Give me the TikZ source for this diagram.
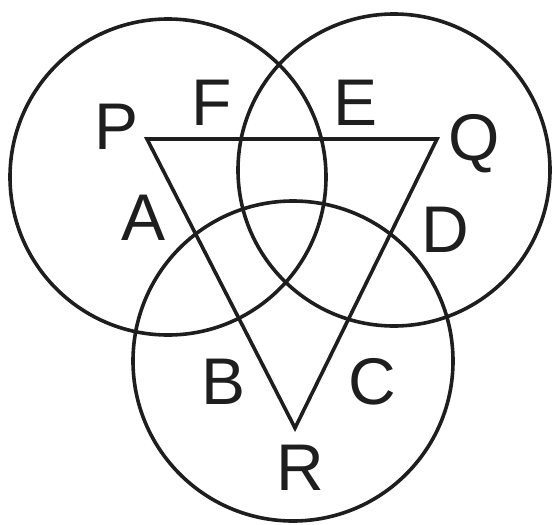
\documentclass[tikz,border=0pt]{standalone}
\usepackage{fontspec}
\setmainfont{Liberation Sans}
\definecolor{ink}{RGB}{30,30,30}
\begin{document}
\begin{tikzpicture}[x=1pt,y=-1pt,
  line/.style={draw=ink,line width=3.6pt},
  lbl/.style={font=\fontsize{66}{66}\selectfont,text=ink,inner sep=0pt}]
\useasboundingbox (0,0) rectangle (560,525);
\coordinate (c1) at (168,177);
\coordinate (c2) at (394,170);
\coordinate (c3) at (293,361);
\draw[line] (c1) circle[radius=158pt];
\draw[line] (c2) circle[radius=156pt];
\draw[line] (c3) circle[radius=160pt];
\coordinate (P) at (147,139);
\coordinate (Q) at (437,139);
\coordinate (R) at (295,428);
\draw[line,line join=miter] (P) -- (Q) -- (R) -- cycle;
\node[lbl] (lP) at (117,127) {P};
\node[lbl] (lF) at (212,103) {F};
\node[lbl] (lE) at (356,103) {E};
\node[lbl] (lQ) at (474,144) {Q};
\node[lbl] (lA) at (144,218) {A};
\node[lbl] (lD) at (445,230) {D};
\node[lbl] (lB) at (224,382) {B};
\node[lbl] (lC) at (372,382) {C};
\node[lbl] (lR) at (300,468) {R};
\end{tikzpicture}
\end{document}
